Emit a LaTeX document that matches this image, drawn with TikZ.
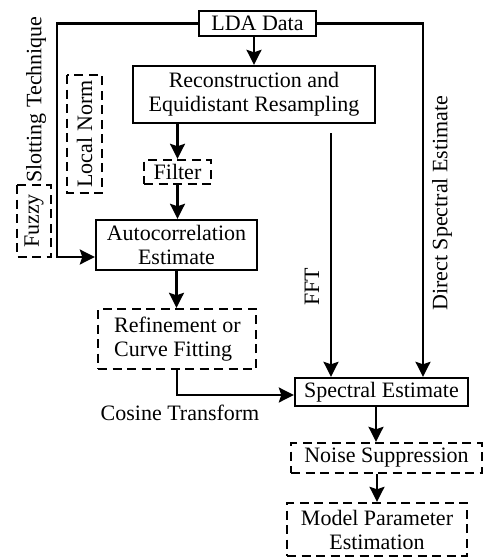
\documentclass[tikz,border=0pt]{standalone}
\usepackage{fontspec}
\setmainfont{Liberation Serif}
\usetikzlibrary{arrows.meta,calc}
\begin{document}
\begin{tikzpicture}[x=1pt,y=-1pt,
  every node/.style={font=\fontsize{22}{24}\selectfont, inner sep=0pt, align=center},
  solidbox/.style={draw, line width=2.4pt, rectangle},
  dashbox/.style={draw, line width=2.4pt, rectangle, dash pattern=on 9pt off 5.5pt},
  conn/.style={line width=2.4pt},
  arr/.style={line width=2.4pt, -{Stealth[length=15pt,width=15pt,inset=2.5pt]}}
]
\useasboundingbox (0,0) rectangle (493,557);

% boxes
\node[solidbox, minimum width=117pt, minimum height=25pt] (lda) at (257.5,23.5) {LDA Data};
\node[solidbox, minimum width=242pt, minimum height=57pt] (rec) at (254,94.5) {Reconstruction and\\Equidistant Resampling};
\node[dashbox, minimum width=67pt, minimum height=24pt] (filt) at (177.5,172) {Filter};
\node[solidbox, minimum width=161pt, minimum height=50pt] (auto) at (176.5,245) {Autocorrelation\\Estimate};
\node[dashbox, minimum width=158pt, minimum height=60pt] (ref) at (177,339) {};
\node[anchor=west, align=left] (reftext) at (114,339) {Refinement or\\Curve Fitting};
\node[solidbox, minimum width=173pt, minimum height=28pt] (spec) at (381.5,392) {Spectral Estimate};
\node[dashbox, minimum width=191pt, minimum height=30pt] (noise) at (386.5,458) {Noise Suppression};
\node[dashbox, minimum width=180pt, minimum height=53pt] (model) at (377,529.5) {Model Parameter\\Estimation};

% rotated labels and boxes
\node[dashbox, rotate=90, minimum width=118pt, minimum height=35pt] (local) at (84.5,134) {Local Norm};
\node[dashbox, rotate=90, minimum width=72pt, minimum height=34pt] (fuzzy) at (34,221) {Fuzzy};
\node[rotate=90, anchor=west] (slot) at (36,183) {Slotting Technique};
\node[rotate=90] (fft) at (312,287) {FFT};
\node[rotate=90] (direct) at (442,203) {Direct Spectral Estimate};
\node (cosine) at (180,413) {Cosine Transform};

% helper coordinates
\coordinate (lc) at (57,257);
\coordinate (rc) at (423,0);
\coordinate (fftstart) at (331,133);
\coordinate (ax) at (376,0);

% connectors
\draw[arr] (lda.south -| rec.north) -- (rec.north);
\draw[arr] (lda.west) -| (lc) -- (lc -| auto.west);
\draw[arr] (lda.east) -| (rc |- spec.north);
\draw[arr] (fftstart) -- (fftstart |- spec.north);
\draw[arr] (rec.south -| filt.north) -- (filt.north);
\draw[arr] (filt.south) -- (filt.south |- auto.north);
\draw[arr] (auto.south) -- (auto.south |- ref.north);
\draw[arr] (ref.south) |- ($(spec.west)+(0,3)$);
\draw[arr] (spec.south -| ax) -- (noise.north -| ax);
\draw[arr] (noise.south -| model.north) -- (model.north);
\end{tikzpicture}
\end{document}
